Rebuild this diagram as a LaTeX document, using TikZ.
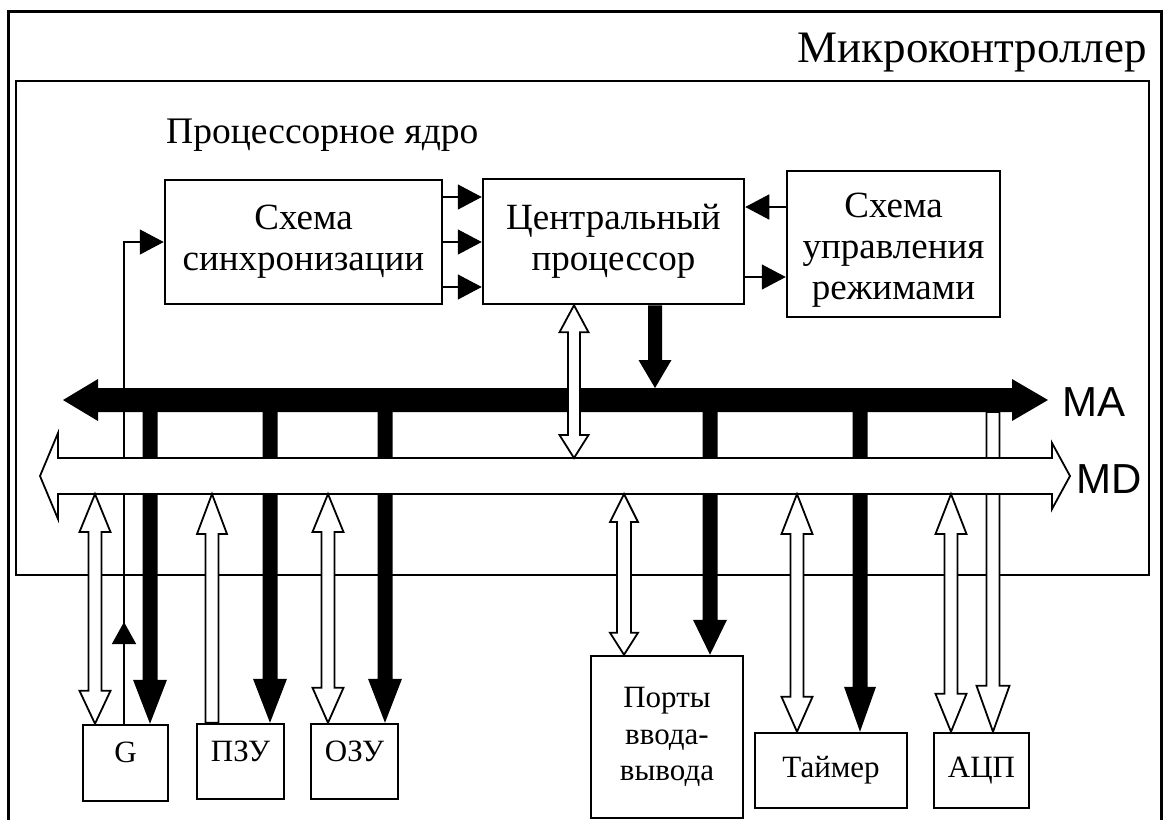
\documentclass[tikz,border=0pt]{standalone}
\usepackage{fontspec}
\setmainfont{Liberation Serif}
\newfontfamily\busfont{Liberation Sans}
\usetikzlibrary{arrows.meta,calc}

% wide bus arrow pointing down: style, start, tip, half shaft, half head, head length
\newcommand{\busarrowdown}[6]{%
  \path[#1] let \p1=(#2), \p2=(#3) in
    (\x1-#4,\y1) -- (\x1-#4,\y2+#6) -- (\x1-#5,\y2+#6) -- (\x1,\y2)
    -- (\x1+#5,\y2+#6) -- (\x1+#4,\y2+#6) -- (\x1+#4,\y1) -- cycle;}
% wide bus arrow pointing up: style, start (below), tip (above), half shaft, half head, head length
\newcommand{\busarrowup}[6]{%
  \path[#1] let \p1=(#2), \p2=(#3) in
    (\x1-#4,\y1) -- (\x1-#4,\y2-#6) -- (\x1-#5,\y2-#6) -- (\x1,\y2)
    -- (\x1+#5,\y2-#6) -- (\x1+#4,\y2-#6) -- (\x1+#4,\y1) -- cycle;}
% wide vertical bus arrow with two heads: style, top tip, bottom tip, half shaft, half head, top length, bottom length
\newcommand{\busarrowboth}[7]{%
  \path[#1] let \p1=(#2), \p2=(#3) in
    (\x1,\y1) -- (\x1+#5,\y1-#6) -- (\x1+#4,\y1-#6) -- (\x1+#4,\y2+#7)
    -- (\x1+#5,\y2+#7) -- (\x1,\y2) -- (\x1-#5,\y2+#7) -- (\x1-#4,\y2+#7)
    -- (\x1-#4,\y1-#6) -- (\x1-#5,\y1-#6) -- cycle;}
% horizontal bus with two heads: style, left tip, right tip, half shaft,
% left half head, right half head, left length, right length
\newcommand{\busline}[8]{%
  \path[#1] let \p1=(#2), \p2=(#3) in
    (\x1,\y1) -- (\x1+#7,\y1+#5) -- (\x1+#7,\y1+#4) -- (\x2-#8,\y1+#4)
    -- (\x2-#8,\y1+#6) -- (\x2,\y1) -- (\x2-#8,\y1-#6) -- (\x2-#8,\y1-#4)
    -- (\x1+#7,\y1-#4) -- (\x1+#7,\y1-#5) -- cycle;}

\newcommand{\titlefs}{\fontsize{45}{54}\selectfont}
\newcommand{\corefs}{\fontsize{37.5}{44}\selectfont}
\newcommand{\unitfs}{\fontsize{37}{41}\selectfont}
\newcommand{\devfs}{\fontsize{31}{36.5}\selectfont}
\newcommand{\busfs}{\busfont\fontsize{42}{50}\selectfont}

\begin{document}
\begin{tikzpicture}[x=1pt,y=-1pt,
  frameouter/.style={line width=3pt},
  frameinner/.style={line width=2pt},
  unit/.style={draw, line width=2.5pt, inner sep=0pt, align=center},
  label text/.style={inner sep=0pt},
  sig/.style={line width=1.5pt, -{Triangle[length=24pt,width=25pt]}},
  wire/.style={line width=1.5pt},
  solidbus/.style={fill=black},
  hollowbus/.style={draw=black, fill=white, line width=1.8pt, line join=miter},
]
\useasboundingbox (0,0) rectangle (1164,820);

% frames
\draw[frameouter] (8,820) -- (8,11) -- (1161,11) -- (1161,820);
\draw[frameinner] (16,81) rectangle (1149,575);

\node[label text, anchor=base east, font=\titlefs] (title) at (1147,62) {Микроконтроллер};
\node[label text, anchor=base west, font=\corefs] (core) at (166,143) {Процессорное ядро};

% processor core units
\node[unit, minimum width=277pt, minimum height=124pt, font=\unitfs] (sync) at (303.5,242) {Схема\\синхронизации};
\node[unit, minimum width=261pt, minimum height=125pt, font=\unitfs] (cpu) at (613.5,241.5) {Центральный\\процессор};
\node[unit, minimum width=213pt, minimum height=146pt,
      label={[label text, font=\unitfs, align=center, yshift=-6pt]center:{Схема\\управления\\режимами}}] (modes) at (893.5,244) {};

% peripheral units
\node[unit, minimum width=85pt, minimum height=76pt, font=\devfs, text height=21pt, text depth=23pt] (G) at (125.5,763) {G};
\node[unit, minimum width=87pt, minimum height=75pt, font=\devfs, text height=21pt, text depth=22pt] (rom) at (240.5,761.5) {ПЗУ};
\node[unit, minimum width=87pt, minimum height=75pt, font=\devfs, text height=21pt, text depth=22pt] (ram) at (354.5,761.5) {ОЗУ};
\node[unit, minimum width=152pt, minimum height=162pt, font=\devfs] (ports) at (667,737) {Порты\\ввода-\\вывода};
\node[unit, minimum width=152pt, minimum height=75pt, font=\devfs] (timer) at (831,770.5) {Таймер};
\node[unit, minimum width=95pt, minimum height=75pt, font=\devfs] (adc) at (981.5,770.5) {АЦП};

% bus labels
\node[label text, anchor=base west, font=\busfs] (malabel) at (1062,416) {MA};
\node[label text, anchor=base west, font=\busfs] (mdlabel) at (1076,493) {MD};

% control signals inside the core
\foreach \yy [count=\i] in {197,242,287} {
  \coordinate (sy\i) at (0,\yy);
  \draw[sig] (sync.east |- sy\i) -- (cpu.west |- sy\i);
}
\coordinate (mo1) at (0,207);
\coordinate (mo2) at (0,277);
\draw[sig] (modes.west |- mo1) -- (cpu.east |- mo1);
\draw[sig] (cpu.east |- mo2) -- (modes.west |- mo2);

% bus attachment points
\coordinate (maL) at (63,400);   \coordinate (maR) at (1048,400);
\coordinate (mdL) at (40,476);   \coordinate (mdR) at (1070,476);
\coordinate (aG) at (150,400);   \coordinate (aR) at (270,400);
\coordinate (aO) at (385,400);   \coordinate (aI) at (710,400);
\coordinate (aT) at (860,400);   \coordinate (aA) at (993,412);
\coordinate (dG) at (95,494);    \coordinate (dR) at (212,494);
\coordinate (dO) at (328,494);   \coordinate (dI) at (624,494);
\coordinate (dT) at (797,494);   \coordinate (dA) at (951,494);
\coordinate (cA) at (655,388);   \coordinate (cD) at (574,458);
\coordinate (fb) at (124,0);     \coordinate (fbmid) at (124,622);

% address bus
\busline{solidbus}{maL}{maR}{12pt}{21pt}{21pt}{35pt}{36pt}

% address lines to the units
\busarrowdown{solidbus}{aG}{G.north -| aG}{7.5pt}{17pt}{44pt}
\busarrowdown{solidbus}{aR}{rom.north -| aR}{7.5pt}{17pt}{44pt}
\busarrowdown{solidbus}{aO}{ram.north -| aO}{7.5pt}{17pt}{44pt}
\busarrowdown{solidbus}{aI}{ports.north -| aI}{7.5pt}{17pt}{35pt}
\busarrowdown{solidbus}{aT}{timer.north -| aT}{7.5pt}{16pt}{45pt}
\busarrowdown{hollowbus}{aA}{adc.north -| aA}{6.5pt}{16.5pt}{46pt}

% clock from the generator to the synchronisation unit
\draw[wire, -{Triangle[length=22pt,width=24pt]}] (G.north -| fb) -- (fbmid);
\draw[sig] (G.north -| fb) -- (fb |- sy2) -- (sync.west |- sy2);

% data bus
\busline{hollowbus}{mdL}{mdR}{18pt}{43pt}{33pt}{18pt}{18pt}

% data lines to the units
\busarrowboth{hollowbus}{dG}{G.north -| dG}{6.5pt}{15.5pt}{38pt}{33pt}
\busarrowup{hollowbus}{rom.north -| dR}{dR}{6.5pt}{15pt}{40pt}
\busarrowboth{hollowbus}{dO}{ram.north -| dO}{6.5pt}{15.5pt}{38pt}{35pt}
\busarrowboth{hollowbus}{dI}{ports.north -| dI}{7pt}{14pt}{28pt}{22pt}
\busarrowboth{hollowbus}{dT}{timer.north -| dT}{6.5pt}{15.5pt}{40pt}{35pt}
\busarrowboth{hollowbus}{dA}{adc.north -| dA}{6.5pt}{15.5pt}{40pt}{38pt}

% processor to the buses
\busarrowdown{solidbus}{cpu.south -| cA}{cA}{7pt}{16.5pt}{28pt}
\busarrowboth{hollowbus}{cpu.south -| cD}{cD}{6pt}{14.5pt}{27pt}{23pt}

\end{tikzpicture}
\end{document}
